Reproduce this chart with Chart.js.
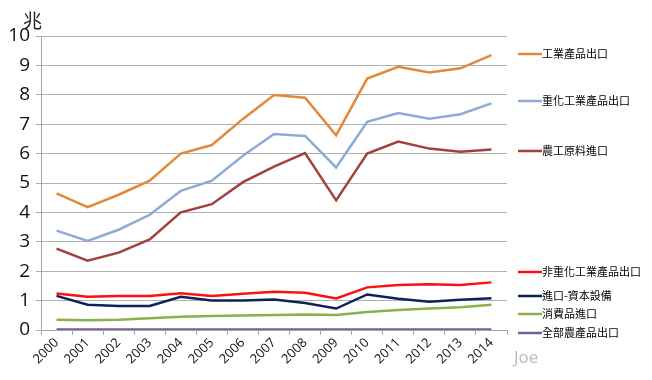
<!DOCTYPE html>
<html>
<head>
<meta charset="utf-8">
<script src="https://cdn.jsdelivr.net/npm/chart.js@4/dist/chart.umd.min.js"></script>
<style>
  html, body { margin: 0; padding: 0; background: #fff; }
  #wrap { position: relative; width: 652px; height: 380px; }
</style>
</head>
<body>
<div id="wrap"><canvas id="chart" width="652" height="380"></canvas></div>
<script>
// 資料（單位：兆）
const years = ['2000', '2001', '2002', '2003', '2004', '2005', '2006', '2007', '2008', '2009', '2010', '2011', '2012', '2013', '2014'];
const yTicks = [0, 1, 2, 3, 4, 5, 6, 7, 8, 9, 10];

const industrialExport = [4.65, 4.18, 4.6, 5.08, 6.0, 6.29, 7.18, 7.99, 7.9, 6.62, 8.55, 8.95, 8.76, 8.9, 9.35];
const heavyExport = [3.38, 3.03, 3.41, 3.92, 4.73, 5.08, 5.93, 6.67, 6.6, 5.53, 7.08, 7.38, 7.19, 7.34, 7.71];
const rawImport = [2.77, 2.36, 2.63, 3.08, 4.0, 4.28, 5.03, 5.56, 6.02, 4.41, 6.0, 6.41, 6.17, 6.06, 6.14];
const nonHeavyExport = [1.24, 1.13, 1.16, 1.16, 1.25, 1.16, 1.23, 1.3, 1.27, 1.07, 1.45, 1.53, 1.56, 1.53, 1.62];
const capitalImport = [1.16, 0.86, 0.82, 0.82, 1.13, 1.0, 1.0, 1.04, 0.92, 0.73, 1.21, 1.06, 0.96, 1.03, 1.08];
const consumerImport = [0.35, 0.33, 0.35, 0.4, 0.45, 0.48, 0.49, 0.51, 0.53, 0.51, 0.61, 0.68, 0.73, 0.77, 0.86];
const farmExport = [0.02, 0.02, 0.02, 0.02, 0.02, 0.02, 0.02, 0.02, 0.02, 0.02, 0.02, 0.02, 0.02, 0.02, 0.02];

const seriesNames = ['工業產品出口', '重化工業產品出口', '農工原料進口', '非重化工業產品出口', '進口-資本設備', '消費品進口', '全部農產品出口'];
const seriesData = [industrialExport, heavyExport, rawImport, nonHeavyExport, capitalImport, consumerImport, farmExport];
const seriesColors = ['#e4883a', '#8eaad6', '#a33f3d', '#ff1010', '#0f2258', '#8bb04c', '#7a5ca0'];

// 圖例位置（y 像素）
const legendY = [54, 101, 151, 272, 296, 314, 333];

const FONT = '"Open Sans", "Noto Sans CJK TC", sans-serif';
const CJK = '"Noto Sans CJK TC", sans-serif';

const sideLabels = {
  id: 'sideLabels',
  afterDraw(chart) {
    const { ctx } = chart;
    ctx.save();
    ctx.textBaseline = 'middle';
    seriesNames.forEach((name, i) => {
      const y = legendY[i];
      ctx.strokeStyle = seriesColors[i];
      ctx.lineWidth = 2.5;
      ctx.beginPath();
      ctx.moveTo(518, y);
      ctx.lineTo(542, y);
      ctx.stroke();
      ctx.fillStyle = '#000';
      ctx.font = '11px ' + CJK;
      ctx.textAlign = 'left';
      ctx.fillText(name, 542, y);
    });
    // 單位
    ctx.font = '19px ' + CJK;
    ctx.fillStyle = '#222';
    ctx.fillText('兆', 23, 21);
    // 署名
    ctx.font = '17px ' + FONT;
    ctx.fillStyle = '#bdbdbd';
    ctx.fillText('Joe', 514, 358);
    ctx.restore();
  },
};

new Chart(document.getElementById('chart'), {
  type: 'line',
  data: {
    labels: years,
    datasets: seriesData.map((data, i) => ({
      label: seriesNames[i],
      data,
      borderColor: seriesColors[i],
      backgroundColor: seriesColors[i],
      borderWidth: 2.5,
      pointRadius: 0,
      tension: 0,
    })),
  },
  options: {
    responsive: false,
    animation: false,
    layout: { padding: { top: 36, right: 145, left: 0, bottom: 0 } },
    plugins: { legend: { display: false }, tooltip: { enabled: false } },
    scales: {
      x: {
        offset: true,
        grid: { display: true, drawOnChartArea: false, drawTicks: true, tickLength: 5, color: '#a6a6a6', offset: true },
        border: { display: true, color: '#a6a6a6' },
        ticks: {
          maxRotation: 45,
          minRotation: 45,
          color: '#111',
          padding: 0,
          font: { family: FONT, size: 13 },
        },
        afterFit(scale) { scale.height = 50; },
      },
      y: {
        min: 0,
        max: 10,
        afterBuildTicks(scale) { scale.ticks = yTicks.map((v) => ({ value: v })); },
        grid: { color: '#b0b0b0', tickLength: 5, lineWidth: 1 },
        border: { display: true, color: '#a6a6a6' },
        ticks: {
          color: '#111',
          padding: 6,
          font: { family: FONT, size: 19 },
        },
        afterFit(scale) { scale.width = 41; },
      },
    },
  },
  plugins: [sideLabels],
});
</script>
</body>
</html>
